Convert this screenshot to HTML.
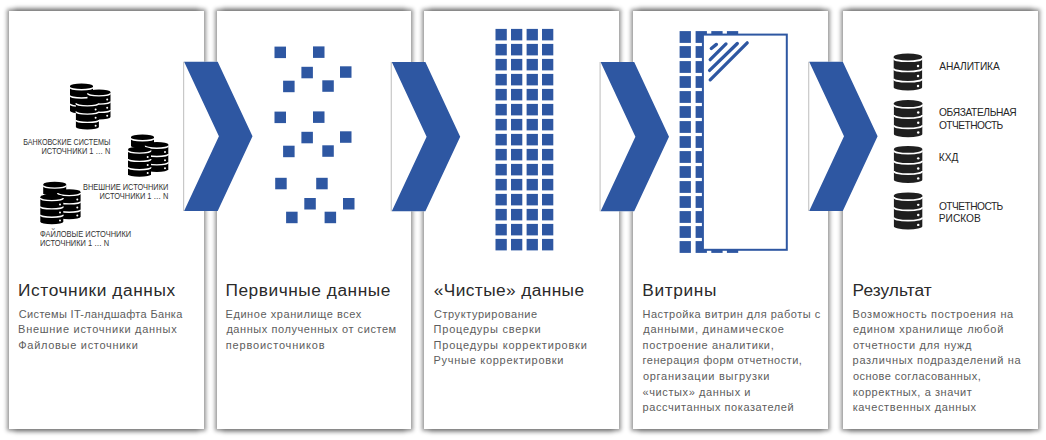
<!DOCTYPE html>
<html><head><meta charset="utf-8"><style>
html,body{margin:0;padding:0;background:#fff;}
body{width:1046px;height:440px;position:relative;overflow:hidden;font-family:"Liberation Sans",sans-serif;}
.panel{position:absolute;background:#fff;box-shadow:0 0 4px 2px rgba(0,0,0,0.42);}
.sh2{position:absolute;box-shadow:0 0 5px 3px rgba(0,0,0,0.25);}
.art{position:absolute;left:0;top:0;}
.t{position:absolute;white-space:nowrap;}
.ti{font-size:17.3px;line-height:22px;color:#2a2a2a;}
.bd{font-size:11px;line-height:15px;color:#5d5d5d;}
.p5{font-size:10.2px;line-height:12px;color:#262626;}
.lab{font-size:8.4px;line-height:10px;color:#333;}
</style></head><body>
<div class="sh2" style="left:17px;top:11px;width:179px;height:418px"></div><div class="panel" style="left:9px;top:11px;width:195px;height:418px"></div><div class="sh2" style="left:225px;top:11px;width:178px;height:418px"></div><div class="panel" style="left:217px;top:11px;width:194px;height:418px"></div><div class="sh2" style="left:432px;top:11px;width:179px;height:418px"></div><div class="panel" style="left:424px;top:11px;width:195px;height:418px"></div><div class="sh2" style="left:641px;top:11px;width:179px;height:418px"></div><div class="panel" style="left:633px;top:11px;width:195px;height:418px"></div><div class="sh2" style="left:851px;top:11px;width:179px;height:418px"></div><div class="panel" style="left:843px;top:11px;width:195px;height:418px"></div>
<svg class="art" width="1046" height="440" viewBox="0 0 1046 440"><defs>
<symbol id="cyl" viewBox="0 0 23 30" overflow="visible">
<path d="M0,2.6 A11.5,2.6 0 0 1 23,2.6 V27.4 A11.5,2.6 0 0 1 0,27.4 Z" fill="currentColor"/>
<path d="M0,3.8 A11.5,2.5 0 0 0 23,3.8 M0,12.1 A11.5,2.5 0 0 0 23,12.1 M0,20.4 A11.5,2.5 0 0 0 23,20.4" stroke="#fff" stroke-width="1.35" fill="none"/>
<circle cx="19.7" cy="10.1" r="1" fill="#fff"/><circle cx="19.7" cy="18.3" r="1" fill="#fff"/><circle cx="19.7" cy="26.3" r="1" fill="#fff"/>
</symbol>
</defs>
<rect x="183.6" y="61.7" width="70" height="149.3" fill="#fff"/>
<line x1="183.6" y1="61.7" x2="183.6" y2="211.0" stroke="#c8c8c8" stroke-width="1.2"/>
<polygon points="184.10,61.70 217.70,61.70 252.50,136.35 217.70,211.00 184.10,211.00 218.90,136.35" fill="#2e57a2"/>
<rect x="391.3" y="62.0" width="70" height="149.3" fill="#fff"/>
<line x1="391.3" y1="62.0" x2="391.3" y2="211.3" stroke="#c8c8c8" stroke-width="1.2"/>
<polygon points="391.80,62.00 425.40,62.00 460.20,136.65 425.40,211.30 391.80,211.30 426.60,136.65" fill="#2e57a2"/>
<rect x="600.1" y="62.0" width="70" height="149.3" fill="#fff"/>
<line x1="600.1" y1="62.0" x2="600.1" y2="211.3" stroke="#c8c8c8" stroke-width="1.2"/>
<polygon points="600.60,62.00 634.20,62.00 669.00,136.65 634.20,211.30 600.60,211.30 635.40,136.65" fill="#2e57a2"/>
<rect x="808.7" y="61.7" width="70" height="149.3" fill="#fff"/>
<line x1="808.7" y1="61.7" x2="808.7" y2="211.0" stroke="#c8c8c8" stroke-width="1.2"/>
<polygon points="809.20,61.70 842.80,61.70 877.60,136.35 842.80,211.00 809.20,211.00 844.00,136.35" fill="#2e57a2"/>
<use href="#cyl" x="70" y="83.4" width="23.00" height="30.00" style="color:#000"/>
<use href="#cyl" x="87.5" y="89.5" width="23.00" height="30.00" style="color:#000"/>
<use href="#cyl" x="75.9" y="99.5" width="23.00" height="30.00" style="color:#000"/>
<use href="#cyl" x="131" y="134.4" width="23.00" height="30.00" style="color:#000"/>
<use href="#cyl" x="145.3" y="141.9" width="23.00" height="30.00" style="color:#000"/>
<use href="#cyl" x="128" y="146.8" width="23.00" height="30.00" style="color:#000"/>
<use href="#cyl" x="43.2" y="181.8" width="23.00" height="30.00" style="color:#000"/>
<use href="#cyl" x="57.6" y="189.3" width="23.00" height="30.00" style="color:#000"/>
<use href="#cyl" x="40.3" y="194.3" width="23.00" height="30.00" style="color:#000"/>
<use href="#cyl" x="893.7" y="53.5" width="28.41" height="37.05" style="color:#1f1f1f"/>
<use href="#cyl" x="893.9" y="100.1" width="28.41" height="37.05" style="color:#1f1f1f"/>
<use href="#cyl" x="893.9" y="145.9" width="28.41" height="37.05" style="color:#1f1f1f"/>
<use href="#cyl" x="893.9" y="192.4" width="28.41" height="37.05" style="color:#1f1f1f"/>
<rect x="274.5" y="46.6" width="11.5" height="11.5" fill="#2e57a2"/>
<rect x="313" y="46.4" width="11.5" height="11.5" fill="#2e57a2"/>
<rect x="301.4" y="66.8" width="11.5" height="11.5" fill="#2e57a2"/>
<rect x="340" y="66.3" width="11.5" height="11.5" fill="#2e57a2"/>
<rect x="283.1" y="80.7" width="11.5" height="11.5" fill="#2e57a2"/>
<rect x="322.3" y="80.3" width="11.5" height="11.5" fill="#2e57a2"/>
<rect x="274.5" y="111.6" width="11.5" height="11.5" fill="#2e57a2"/>
<rect x="313" y="111.4" width="11.5" height="11.5" fill="#2e57a2"/>
<rect x="301.4" y="131.8" width="11.5" height="11.5" fill="#2e57a2"/>
<rect x="340" y="131.3" width="11.5" height="11.5" fill="#2e57a2"/>
<rect x="283.1" y="145.7" width="11.5" height="11.5" fill="#2e57a2"/>
<rect x="322.3" y="145.3" width="11.5" height="11.5" fill="#2e57a2"/>
<rect x="275.2" y="177.8" width="11.5" height="11.5" fill="#2e57a2"/>
<rect x="316.2" y="177.8" width="11.5" height="11.5" fill="#2e57a2"/>
<rect x="304.3" y="198" width="11.5" height="11.5" fill="#2e57a2"/>
<rect x="343" y="198" width="11.5" height="11.5" fill="#2e57a2"/>
<rect x="286.1" y="211.7" width="11.5" height="11.5" fill="#2e57a2"/>
<rect x="324.6" y="211.7" width="11.5" height="11.5" fill="#2e57a2"/>
<rect x="495.5" y="28.90" width="11.3" height="11.5" fill="#2e57a2"/>
<rect x="511" y="28.90" width="11.3" height="11.5" fill="#2e57a2"/>
<rect x="526.6" y="28.90" width="11.3" height="11.5" fill="#2e57a2"/>
<rect x="542" y="28.90" width="11.3" height="11.5" fill="#2e57a2"/>
<rect x="495.5" y="43.90" width="11.3" height="11.5" fill="#2e57a2"/>
<rect x="511" y="43.90" width="11.3" height="11.5" fill="#2e57a2"/>
<rect x="526.6" y="43.90" width="11.3" height="11.5" fill="#2e57a2"/>
<rect x="542" y="43.90" width="11.3" height="11.5" fill="#2e57a2"/>
<rect x="495.5" y="58.90" width="11.3" height="11.5" fill="#2e57a2"/>
<rect x="511" y="58.90" width="11.3" height="11.5" fill="#2e57a2"/>
<rect x="526.6" y="58.90" width="11.3" height="11.5" fill="#2e57a2"/>
<rect x="542" y="58.90" width="11.3" height="11.5" fill="#2e57a2"/>
<rect x="495.5" y="73.90" width="11.3" height="11.5" fill="#2e57a2"/>
<rect x="511" y="73.90" width="11.3" height="11.5" fill="#2e57a2"/>
<rect x="526.6" y="73.90" width="11.3" height="11.5" fill="#2e57a2"/>
<rect x="542" y="73.90" width="11.3" height="11.5" fill="#2e57a2"/>
<rect x="495.5" y="88.90" width="11.3" height="11.5" fill="#2e57a2"/>
<rect x="511" y="88.90" width="11.3" height="11.5" fill="#2e57a2"/>
<rect x="526.6" y="88.90" width="11.3" height="11.5" fill="#2e57a2"/>
<rect x="542" y="88.90" width="11.3" height="11.5" fill="#2e57a2"/>
<rect x="495.5" y="103.90" width="11.3" height="11.5" fill="#2e57a2"/>
<rect x="511" y="103.90" width="11.3" height="11.5" fill="#2e57a2"/>
<rect x="526.6" y="103.90" width="11.3" height="11.5" fill="#2e57a2"/>
<rect x="542" y="103.90" width="11.3" height="11.5" fill="#2e57a2"/>
<rect x="495.5" y="118.90" width="11.3" height="11.5" fill="#2e57a2"/>
<rect x="511" y="118.90" width="11.3" height="11.5" fill="#2e57a2"/>
<rect x="526.6" y="118.90" width="11.3" height="11.5" fill="#2e57a2"/>
<rect x="542" y="118.90" width="11.3" height="11.5" fill="#2e57a2"/>
<rect x="495.5" y="133.90" width="11.3" height="11.5" fill="#2e57a2"/>
<rect x="511" y="133.90" width="11.3" height="11.5" fill="#2e57a2"/>
<rect x="526.6" y="133.90" width="11.3" height="11.5" fill="#2e57a2"/>
<rect x="542" y="133.90" width="11.3" height="11.5" fill="#2e57a2"/>
<rect x="495.5" y="148.90" width="11.3" height="11.5" fill="#2e57a2"/>
<rect x="511" y="148.90" width="11.3" height="11.5" fill="#2e57a2"/>
<rect x="526.6" y="148.90" width="11.3" height="11.5" fill="#2e57a2"/>
<rect x="542" y="148.90" width="11.3" height="11.5" fill="#2e57a2"/>
<rect x="495.5" y="163.90" width="11.3" height="11.5" fill="#2e57a2"/>
<rect x="511" y="163.90" width="11.3" height="11.5" fill="#2e57a2"/>
<rect x="526.6" y="163.90" width="11.3" height="11.5" fill="#2e57a2"/>
<rect x="542" y="163.90" width="11.3" height="11.5" fill="#2e57a2"/>
<rect x="495.5" y="178.90" width="11.3" height="11.5" fill="#2e57a2"/>
<rect x="511" y="178.90" width="11.3" height="11.5" fill="#2e57a2"/>
<rect x="526.6" y="178.90" width="11.3" height="11.5" fill="#2e57a2"/>
<rect x="542" y="178.90" width="11.3" height="11.5" fill="#2e57a2"/>
<rect x="495.5" y="193.90" width="11.3" height="11.5" fill="#2e57a2"/>
<rect x="511" y="193.90" width="11.3" height="11.5" fill="#2e57a2"/>
<rect x="526.6" y="193.90" width="11.3" height="11.5" fill="#2e57a2"/>
<rect x="542" y="193.90" width="11.3" height="11.5" fill="#2e57a2"/>
<rect x="495.5" y="208.90" width="11.3" height="11.5" fill="#2e57a2"/>
<rect x="511" y="208.90" width="11.3" height="11.5" fill="#2e57a2"/>
<rect x="526.6" y="208.90" width="11.3" height="11.5" fill="#2e57a2"/>
<rect x="542" y="208.90" width="11.3" height="11.5" fill="#2e57a2"/>
<rect x="495.5" y="223.90" width="11.3" height="11.5" fill="#2e57a2"/>
<rect x="511" y="223.90" width="11.3" height="11.5" fill="#2e57a2"/>
<rect x="526.6" y="223.90" width="11.3" height="11.5" fill="#2e57a2"/>
<rect x="542" y="223.90" width="11.3" height="11.5" fill="#2e57a2"/>
<rect x="495.5" y="238.90" width="11.3" height="11.5" fill="#2e57a2"/>
<rect x="511" y="238.90" width="11.3" height="11.5" fill="#2e57a2"/>
<rect x="526.6" y="238.90" width="11.3" height="11.5" fill="#2e57a2"/>
<rect x="542" y="238.90" width="11.3" height="11.5" fill="#2e57a2"/>
<rect x="679.6" y="31.10" width="11.3" height="11.8" fill="#2e57a2"/>
<rect x="695.6" y="31.10" width="11.3" height="11.8" fill="#2e57a2"/>
<rect x="711.3" y="31.10" width="11.3" height="11.8" fill="#2e57a2"/>
<rect x="726.9" y="31.10" width="11.3" height="11.8" fill="#2e57a2"/>
<rect x="679.6" y="46.10" width="11.3" height="11.8" fill="#2e57a2"/>
<rect x="695.6" y="46.10" width="11.3" height="11.8" fill="#2e57a2"/>
<rect x="711.3" y="46.10" width="11.3" height="11.8" fill="#2e57a2"/>
<rect x="726.9" y="46.10" width="11.3" height="11.8" fill="#2e57a2"/>
<rect x="679.6" y="61.10" width="11.3" height="11.8" fill="#2e57a2"/>
<rect x="695.6" y="61.10" width="11.3" height="11.8" fill="#2e57a2"/>
<rect x="711.3" y="61.10" width="11.3" height="11.8" fill="#2e57a2"/>
<rect x="726.9" y="61.10" width="11.3" height="11.8" fill="#2e57a2"/>
<rect x="679.6" y="76.10" width="11.3" height="11.8" fill="#2e57a2"/>
<rect x="695.6" y="76.10" width="11.3" height="11.8" fill="#2e57a2"/>
<rect x="711.3" y="76.10" width="11.3" height="11.8" fill="#2e57a2"/>
<rect x="726.9" y="76.10" width="11.3" height="11.8" fill="#2e57a2"/>
<rect x="679.6" y="91.10" width="11.3" height="11.8" fill="#2e57a2"/>
<rect x="695.6" y="91.10" width="11.3" height="11.8" fill="#2e57a2"/>
<rect x="711.3" y="91.10" width="11.3" height="11.8" fill="#2e57a2"/>
<rect x="726.9" y="91.10" width="11.3" height="11.8" fill="#2e57a2"/>
<rect x="679.6" y="106.10" width="11.3" height="11.8" fill="#2e57a2"/>
<rect x="695.6" y="106.10" width="11.3" height="11.8" fill="#2e57a2"/>
<rect x="711.3" y="106.10" width="11.3" height="11.8" fill="#2e57a2"/>
<rect x="726.9" y="106.10" width="11.3" height="11.8" fill="#2e57a2"/>
<rect x="679.6" y="121.10" width="11.3" height="11.8" fill="#2e57a2"/>
<rect x="695.6" y="121.10" width="11.3" height="11.8" fill="#2e57a2"/>
<rect x="711.3" y="121.10" width="11.3" height="11.8" fill="#2e57a2"/>
<rect x="726.9" y="121.10" width="11.3" height="11.8" fill="#2e57a2"/>
<rect x="679.6" y="136.10" width="11.3" height="11.8" fill="#2e57a2"/>
<rect x="695.6" y="136.10" width="11.3" height="11.8" fill="#2e57a2"/>
<rect x="711.3" y="136.10" width="11.3" height="11.8" fill="#2e57a2"/>
<rect x="726.9" y="136.10" width="11.3" height="11.8" fill="#2e57a2"/>
<rect x="679.6" y="151.10" width="11.3" height="11.8" fill="#2e57a2"/>
<rect x="695.6" y="151.10" width="11.3" height="11.8" fill="#2e57a2"/>
<rect x="711.3" y="151.10" width="11.3" height="11.8" fill="#2e57a2"/>
<rect x="726.9" y="151.10" width="11.3" height="11.8" fill="#2e57a2"/>
<rect x="679.6" y="166.10" width="11.3" height="11.8" fill="#2e57a2"/>
<rect x="695.6" y="166.10" width="11.3" height="11.8" fill="#2e57a2"/>
<rect x="711.3" y="166.10" width="11.3" height="11.8" fill="#2e57a2"/>
<rect x="726.9" y="166.10" width="11.3" height="11.8" fill="#2e57a2"/>
<rect x="679.6" y="181.10" width="11.3" height="11.8" fill="#2e57a2"/>
<rect x="695.6" y="181.10" width="11.3" height="11.8" fill="#2e57a2"/>
<rect x="711.3" y="181.10" width="11.3" height="11.8" fill="#2e57a2"/>
<rect x="726.9" y="181.10" width="11.3" height="11.8" fill="#2e57a2"/>
<rect x="679.6" y="196.10" width="11.3" height="11.8" fill="#2e57a2"/>
<rect x="695.6" y="196.10" width="11.3" height="11.8" fill="#2e57a2"/>
<rect x="711.3" y="196.10" width="11.3" height="11.8" fill="#2e57a2"/>
<rect x="726.9" y="196.10" width="11.3" height="11.8" fill="#2e57a2"/>
<rect x="679.6" y="211.10" width="11.3" height="11.8" fill="#2e57a2"/>
<rect x="695.6" y="211.10" width="11.3" height="11.8" fill="#2e57a2"/>
<rect x="711.3" y="211.10" width="11.3" height="11.8" fill="#2e57a2"/>
<rect x="726.9" y="211.10" width="11.3" height="11.8" fill="#2e57a2"/>
<rect x="679.6" y="226.10" width="11.3" height="11.8" fill="#2e57a2"/>
<rect x="695.6" y="226.10" width="11.3" height="11.8" fill="#2e57a2"/>
<rect x="711.3" y="226.10" width="11.3" height="11.8" fill="#2e57a2"/>
<rect x="726.9" y="226.10" width="11.3" height="11.8" fill="#2e57a2"/>
<rect x="679.6" y="241.10" width="11.3" height="11.8" fill="#2e57a2"/>
<rect x="695.6" y="241.10" width="11.3" height="11.8" fill="#2e57a2"/>
<rect x="711.3" y="241.10" width="11.3" height="11.8" fill="#2e57a2"/>
<rect x="726.9" y="241.10" width="11.3" height="11.8" fill="#2e57a2"/>
<rect x="702.9" y="34.6" width="83.9" height="215.2" fill="#fff" stroke="#2e57a2" stroke-width="2"/>
<line x1="711.3" y1="48.5" x2="716.4" y2="44.4" stroke="#2e57a2" stroke-width="3.3" stroke-linecap="round"/>
<line x1="710.2" y1="59.7" x2="726.0" y2="43.9" stroke="#2e57a2" stroke-width="3.3" stroke-linecap="round"/>
<line x1="709.6" y1="70.4" x2="737.3" y2="43.5" stroke="#2e57a2" stroke-width="3.3" stroke-linecap="round"/>
<line x1="710.2" y1="79.8" x2="747.2" y2="42.8" stroke="#2e57a2" stroke-width="3.3" stroke-linecap="round"/></svg>
<div class="t ti" style="top:279.01px;left:18.10px;letter-spacing:0.595px;">Источники данных</div><div class="t ti" style="top:279.01px;left:225.51px;letter-spacing:0.544px;">Первичные данные</div><div class="t ti" style="top:279.01px;left:433.87px;letter-spacing:0.398px;">«Чистые» данные</div><div class="t ti" style="top:279.01px;left:642.21px;letter-spacing:0.657px;">Витрины</div><div class="t ti" style="top:279.01px;left:852.61px;letter-spacing:0.069px;">Результат</div><div class="t bd" style="top:306.79px;left:18.84px;letter-spacing:0.321px;">Системы IT-ландшафта Банка</div><div class="t bd" style="top:322.34px;left:18.08px;letter-spacing:0.712px;">Внешние источники данных</div><div class="t bd" style="top:337.89px;left:18.27px;letter-spacing:0.704px;">Файловые источники</div><div class="t bd" style="top:306.79px;left:225.53px;letter-spacing:0.561px;">Единое хранилище всех</div><div class="t bd" style="top:322.34px;left:226.38px;letter-spacing:0.567px;">данных полученных от систем</div><div class="t bd" style="top:337.89px;left:225.74px;letter-spacing:0.824px;">первоисточников</div><div class="t bd" style="top:306.79px;left:433.89px;letter-spacing:0.579px;">Структурирование</div><div class="t bd" style="top:322.34px;left:433.57px;letter-spacing:0.780px;">Процедуры сверки</div><div class="t bd" style="top:337.89px;left:433.57px;letter-spacing:0.804px;">Процедуры корректировки</div><div class="t bd" style="top:353.44px;left:433.53px;letter-spacing:0.720px;">Ручные корректировки</div><div class="t bd" style="top:306.79px;left:642.44px;letter-spacing:0.515px;">Настройка витрин для работы с</div><div class="t bd" style="top:322.34px;left:643.22px;letter-spacing:0.767px;">данными, динамическое</div><div class="t bd" style="top:337.89px;left:642.57px;letter-spacing:0.636px;">построение аналитики,</div><div class="t bd" style="top:353.44px;left:642.57px;letter-spacing:0.491px;">генерация форм отчетности,</div><div class="t bd" style="top:368.99px;left:642.88px;letter-spacing:0.746px;">организации выгрузки</div><div class="t bd" style="top:384.54px;left:642.58px;letter-spacing:0.596px;">«чистых» данных и</div><div class="t bd" style="top:400.09px;left:642.60px;letter-spacing:0.566px;">рассчитанных показателей</div><div class="t bd" style="top:306.79px;left:852.44px;letter-spacing:0.650px;">Возможность построения на</div><div class="t bd" style="top:322.34px;left:852.90px;letter-spacing:0.731px;">едином хранилище любой</div><div class="t bd" style="top:337.89px;left:852.88px;letter-spacing:0.655px;">отчетности для нужд</div><div class="t bd" style="top:353.44px;left:852.60px;letter-spacing:0.664px;">различных подразделений на</div><div class="t bd" style="top:368.99px;left:852.88px;letter-spacing:0.445px;">основе согласованных,</div><div class="t bd" style="top:384.54px;left:852.67px;letter-spacing:0.585px;">корректных, а значит</div><div class="t bd" style="top:400.09px;left:852.67px;letter-spacing:0.638px;">качественных данных</div><div class="t p5" style="top:60.97px;left:939.37px;letter-spacing:-0.137px;">АНАЛИТИКА</div><div class="t p5" style="top:106.77px;left:938.95px;letter-spacing:-0.374px;">ОБЯЗАТЕЛЬНАЯ</div><div class="t p5" style="top:120.07px;left:938.95px;letter-spacing:-0.538px;">ОТЧЕТНОСТЬ</div><div class="t p5" style="top:152.17px;left:938.78px;letter-spacing:0.000px;">КХД</div><div class="t p5" style="top:200.97px;left:938.95px;letter-spacing:-0.538px;">ОТЧЕТНОСТЬ</div><div class="t p5" style="top:212.77px;left:938.78px;letter-spacing:0.000px;">РИСКОВ</div><div class="t lab" style="top:136.79px;right:935.82px;transform:scaleX(0.8598);transform-origin:right top;">БАНКОВСКИЕ СИСТЕМЫ</div><div class="t lab" style="top:146.09px;right:935.87px;transform:scaleX(0.8908);transform-origin:right top;">ИСТОЧНИКИ 1 … N</div><div class="t lab" style="top:181.69px;right:877.22px;transform:scaleX(0.8853);transform-origin:right top;">ВНЕШНИЕ ИСТОЧНИКИ</div><div class="t lab" style="top:190.79px;right:877.87px;transform:scaleX(0.8908);transform-origin:right top;">ИСТОЧНИКИ 1 … N</div><div class="t lab" style="top:228.69px;left:39.92px;transform:scaleX(0.8932);transform-origin:left top;">ФАЙЛОВЫЕ ИСТОЧНИКИ</div><div class="t lab" style="top:237.89px;left:39.53px;transform:scaleX(0.8924);transform-origin:left top;">ИСТОЧНИКИ 1 … N</div>
</body></html>
